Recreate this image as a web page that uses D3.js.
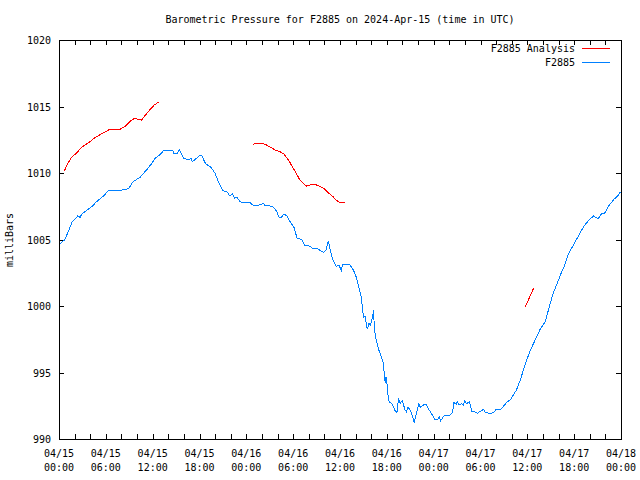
<!DOCTYPE html>
<html>
<head>
<meta charset="utf-8">
<script src="https://cdn.jsdelivr.net/npm/d3@7"></script>
<style>
  body { margin: 0; background: #fff; }
  text { font-family: "DejaVu Sans Mono", monospace; font-size: 10px; fill: #000; }
</style>
</head>
<body>
<svg id="chart" width="640" height="480"></svg>
<script>
// ---- data (hours since 2024-04-15 00:00 UTC, pressure in mb) ----
const titleText = "Barometric Pressure for F2885 on 2024-Apr-15 (time in UTC)";
const yLabel = "milliBars";
const seriesNames = ["F2885 Analysis", "F2885"];
const yTicks = [990, 995, 1000, 1005, 1010, 1015, 1020];

const obsHours = [0.1,0.7,1.2,1.7,2.4,2.7,2.9,3.5,4.2,4.8,5.7,6.4,7.6,8.9,9.5,10.4,11.2,11.9,12.3,12.9,13.4,14.6,14.7,15.2,15.4,15.7,16.0,16.6,16.9,17.1,17.6,18.1,18.3,18.8,19.4,20.0,20.4,21.0,21.5,21.9,22.2,22.5,22.8,23.2,23.6,24.5,24.8,25.3,25.7,26.2,26.4,26.6,27.0,27.5,27.9,28.2,28.5,28.8,29.2,29.6,30.1,30.5,31.1,31.5,32.2,32.5,33.1,33.4,33.9,34.2,34.5,34.8,35.1,35.5,35.9,36.2,36.3,36.8,37.2,37.7,38.0,38.3,38.7,38.9,39.0,39.2,39.3,39.5,39.7,39.9,40.2,40.3,40.4,40.6,40.9,41.2,41.5,41.6,41.8,41.9,42.0,42.1,42.3,42.7,43.0,43.3,43.5,43.7,44.0,44.3,44.5,44.7,45.0,45.3,45.5,45.8,46.1,46.3,46.7,47.0,47.3,47.7,48.2,48.5,48.7,48.9,49.3,49.7,50.1,50.4,50.6,50.9,51.0,51.3,51.6,51.8,52.0,52.2,52.6,52.9,53.2,53.6,53.9,54.4,54.6,55.2,55.7,56.0,56.6,56.9,57.4,57.8,58.2,58.6,59.1,59.7,60.3,61.0,61.6,62.3,62.7,63.3,64.0,64.4,64.8,65.2,65.9,66.5,67.2,67.9,68.5,68.8,69.1,69.5,69.9,70.5,71.1,71.7,71.95];
const obsValues = [1004.66,1004.96,1005.6,1006.34,1006.77,1006.67,1006.9,1007.17,1007.47,1007.84,1008.27,1008.72,1008.67,1008.82,1009.35,1009.68,1010.22,1010.73,1011.1,1011.35,1011.68,1011.68,1011.48,1011.48,1011.78,1011.43,1011.1,1010.98,1011.1,1010.85,1011.1,1011.35,1011.28,1010.68,1010.47,1009.98,1009.35,1008.67,1008.6,1008.27,1008.42,1008.1,1008.17,1007.84,1007.77,1007.77,1007.6,1007.52,1007.6,1007.72,1007.52,1007.57,1007.52,1007.42,1007.09,1006.67,1006.67,1006.92,1006.77,1006.34,1005.92,1005.09,1005.0,1004.55,1004.5,1004.33,1004.33,1004.2,1004.03,1004.2,1004.88,1004.08,1003.44,1002.98,1003.05,1002.58,1003.14,1003.1,1003.14,1002.71,1002.33,1001.7,1000.7,999.83,999.15,999.25,998.9,998.25,998.7,998.57,999.25,999.7,998.32,997.57,996.82,996.32,995.81,995.32,994.19,994.68,994.31,993.44,992.8,992.63,992.18,991.98,993.06,992.68,992.88,992.23,992.05,992.38,992.18,991.68,991.23,991.93,992.63,992.38,992.56,992.63,992.3,991.93,991.43,991.43,991.68,991.38,991.73,991.8,991.8,991.98,992.73,992.6,992.8,992.56,992.65,992.56,992.88,992.65,992.8,992.05,992.05,991.93,992.05,992.23,991.98,991.93,991.98,992.23,992.23,992.43,992.78,992.93,993.31,993.68,994.44,995.56,996.56,997.44,998.2,998.82,999.7,1000.95,1001.95,1002.58,1003.08,1003.83,1004.59,1005.21,1005.96,1006.47,1006.77,1006.65,1006.59,1006.92,1006.97,1007.59,1008.02,1008.35,1008.6];

// analysis: null marks a gap between segments
const anaHours = [0.7,1.1,1.6,2.3,2.9,3.8,4.6,5.7,6.5,7.8,8.5,9.2,9.7,10.6,10.9,11.7,12.2,12.8, null, 24.8,25.4,26.2,26.6,27.1,27.7,28.3,28.8,29.4,29.9,30.4,30.8,31.3,31.7,32.2,32.7,33.2,33.9,34.5,35.1,35.6,35.9,36.6, null, 59.7,60.8];
const anaValues = [1010.17,1010.68,1011.18,1011.53,1011.93,1012.28,1012.65,1013.03,1013.28,1013.28,1013.53,1013.93,1014.11,1013.98,1014.23,1014.79,1015.11,1015.34, null, 1012.16,1012.23,1012.2,1012.1,1011.93,1011.73,1011.6,1011.43,1010.98,1010.47,1009.98,1009.53,1009.23,1009.02,1009.1,1009.17,1009.05,1008.85,1008.52,1008.22,1007.92,1007.8,1007.8, null, 999.9,1001.33];

// ---- layout ----
const start = Date.UTC(2024, 3, 15, 0, 0);
const toDate = h => new Date(start + h * 3600e3);
const mL = 59, mR = 621, mT = 40, mB = 439;

const svg = d3.select("#chart");
const x = d3.scaleUtc().domain([toDate(0), toDate(72)]).range([mL, mR]);
const y = d3.scaleLinear().domain([990, 1020]).range([mB, mT]);

// title
svg.append("text").attr("x", 340).attr("y", 23).attr("text-anchor", "middle").text(titleText);
// y label
svg.append("text").attr("transform", "translate(13,240) rotate(-90)").attr("text-anchor", "middle").text(yLabel);

// ticks
const minorTicks = x.ticks(d3.utcHour.every(2));
const majorTicks = x.ticks(d3.utcHour.every(6));
const tg = svg.append("g").attr("stroke", "#000").attr("shape-rendering", "crispEdges");
minorTicks.forEach(t => {
  const px = Math.round(x(t)) + 0.5;
  tg.append("line").attr("x1", px).attr("x2", px).attr("y1", mB).attr("y2", mB - 5);
  tg.append("line").attr("x1", px).attr("x2", px).attr("y1", mT).attr("y2", mT + 5);
});
yTicks.forEach(v => {
  const py = Math.round(y(v)) + 0.5;
  tg.append("line").attr("x1", mL).attr("x2", mL + 5).attr("y1", py).attr("y2", py);
  tg.append("line").attr("x1", mR).attr("x2", mR - 5).attr("y1", py).attr("y2", py);
  svg.append("text").attr("x", 51).attr("y", y(v) + 4).attr("text-anchor", "end").text(v);
});
const fmtD = d3.utcFormat("%m/%d"), fmtT = d3.utcFormat("%H:%M");
majorTicks.forEach(t => {
  const g = svg.append("text").attr("text-anchor", "middle");
  g.append("tspan").attr("x", x(t)).attr("y", 457).text(fmtD(t));
  g.append("tspan").attr("x", x(t)).attr("y", 471).text(fmtT(t));
});

// series
const obs = obsHours.map((h, i) => ({ t: toDate(h), v: obsValues[i] }));
const ana = anaHours.map((h, i) => ({ t: h == null ? null : toDate(h), v: anaValues[i] }));
const line = d3.line().defined(d => d.v != null).x(d => x(d.t)).y(d => y(d.v));

svg.append("path").datum(obs).attr("d", line).attr("fill", "none").attr("stroke", "#0080ff")
  .attr("stroke-width", 1).attr("shape-rendering", "crispEdges");
svg.append("path").datum(ana).attr("d", line).attr("fill", "none").attr("stroke", "#ff0000")
  .attr("stroke-width", 1).attr("shape-rendering", "crispEdges");

// frame
svg.append("rect").attr("x", mL + 0.5).attr("y", mT + 0.5).attr("width", mR - mL).attr("height", mB - mT)
  .attr("fill", "none").attr("stroke", "#000").attr("shape-rendering", "crispEdges");

// legend
const legColors = ["#ff0000", "#0080ff"];
seriesNames.forEach((n, i) => {
  const ly = 48 + i * 14;
  svg.append("text").attr("x", 575).attr("y", ly + 4).attr("text-anchor", "end").text(n);
  svg.append("line").attr("x1", 582).attr("x2", 610).attr("y1", ly + 0.5).attr("y2", ly + 0.5)
    .attr("stroke", legColors[i]).attr("stroke-width", 1).attr("shape-rendering", "crispEdges");
});
</script>
</body>
</html>
